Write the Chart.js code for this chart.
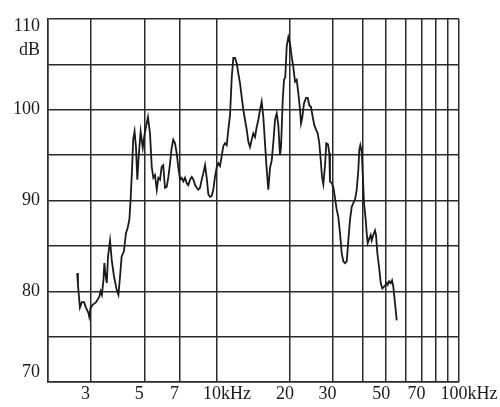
<!DOCTYPE html>
<html>
<head>
<meta charset="utf-8">
<script src="https://cdn.jsdelivr.net/npm/chart.js@4.4.1/dist/chart.umd.min.js"></script>
<style>
  html, body { margin: 0; padding: 0; background: #fff; }
</style>
</head>
<body>
<canvas id="chart" width="500" height="407"></canvas>
<script>
// trace: frequency in kHz, level in dB
const freqKHz = [
  2.64, 2.66, 2.71, 2.76, 2.82, 2.87, 2.94, 2.96, 3.00, 3.06,
  3.16, 3.26, 3.30, 3.34, 3.39, 3.42, 3.45, 3.50, 3.54, 3.61,
  3.67, 3.75, 3.85, 3.91, 3.97, 4.03, 4.12, 4.20, 4.27, 4.34,
  4.39, 4.45, 4.50, 4.56, 4.62, 4.68, 4.74, 4.83, 4.93, 5.02,
  5.08, 5.18, 5.28, 5.37, 5.45, 5.54, 5.63, 5.72, 5.81, 5.90,
  5.99, 6.09, 6.19, 6.29, 6.39, 6.49, 6.59, 6.70, 6.81, 6.91,
  7.03, 7.14, 7.25, 7.37, 7.49, 7.60, 7.73, 7.86, 7.98, 8.11,
  8.24, 8.36, 8.50, 8.64, 8.77, 8.92, 9.06, 9.20, 9.35, 9.50,
  9.65, 9.80, 9.97, 10.12, 10.28, 10.45, 10.61, 10.78, 10.96, 11.13,
  11.31, 11.50, 11.67, 11.86, 12.06, 12.24, 12.44, 12.64, 12.84, 13.04,
  13.26, 13.46, 13.68, 13.90, 14.12, 14.35, 14.58, 14.81, 15.05, 15.29,
  15.53, 15.78, 16.04, 16.28, 16.55, 16.82, 17.08, 17.36, 17.64, 17.91,
  18.20, 18.38, 18.68, 18.91, 19.14, 19.40, 19.70, 20.02, 20.35, 20.66,
  21.00, 21.34, 21.67, 22.02, 22.23, 22.51, 22.87, 23.31, 23.69, 24.05,
  24.45, 24.85, 25.23, 25.64, 26.06, 26.46, 26.81, 27.15, 27.49, 27.94,
  28.28, 28.74, 29.10, 29.29, 29.77, 30.23, 30.72, 31.22, 31.70, 32.22,
  32.75, 33.25, 33.80, 34.35, 34.88, 35.44, 36.02, 36.57, 37.17, 37.78,
  38.36, 38.72, 39.09, 39.62, 39.99, 40.49, 41.15, 41.54, 41.94, 42.58,
  43.16, 43.57, 44.24, 44.96, 45.39, 45.96, 46.71, 47.47, 48.20, 48.99,
  49.79, 50.26, 50.75, 51.37, 52.22, 52.86, 53.52, 54.39, 55.28
];
const levelDB = [
  82.0, 80.7, 78.2, 78.8, 78.8, 78.2, 77.6, 77.2, 78.2, 78.5,
  78.8, 79.4, 80.0, 79.6, 81.2, 83.1, 82.0, 80.9, 83.8, 85.6,
  83.4, 81.6, 80.1, 79.6, 81.6, 83.8, 84.4, 86.4, 87.0, 87.9,
  90.1, 93.4, 96.7, 97.6, 95.9, 92.3, 94.8, 97.6, 95.8, 97.4,
  98.1, 99.2, 97.4, 93.7, 92.5, 92.8, 91.2, 92.5, 92.3, 93.7,
  93.9, 91.4, 91.5, 92.6, 94.1, 95.8, 96.7, 96.3, 95.2, 93.7,
  92.3, 92.5, 92.1, 92.5, 91.9, 91.7, 92.3, 92.6, 92.3, 91.7,
  91.4, 91.2, 91.4, 92.3, 93.0, 93.9, 92.5, 90.7, 90.4, 90.5,
  91.2, 92.6, 93.7, 94.1, 93.8, 94.9, 96.0, 96.3, 96.1, 97.8,
  99.4, 103.6, 105.7, 105.7, 105.1, 104.0, 102.9, 101.4, 100.0, 98.9,
  97.8, 96.5, 95.9, 96.7, 97.4, 97.0, 98.1, 98.9, 100.0, 100.9,
  99.2, 96.3, 93.4, 91.2, 93.6, 94.4, 96.4, 98.9, 99.6, 98.3,
  95.0, 95.9, 101.1, 103.3, 103.6, 107.0, 108.0, 107.3, 105.8, 104.7,
  103.1, 103.3, 101.8, 100.0, 98.5, 99.2, 100.7, 101.3, 101.3, 100.5,
  100.3, 99.2, 98.3, 97.8, 97.4, 96.3, 94.5, 92.6, 91.8, 93.9,
  96.3, 96.2, 95.2, 92.1, 91.9, 91.5, 90.3, 89.0, 88.2, 86.4,
  84.2, 83.3, 83.1, 83.3, 85.6, 87.9, 89.3, 89.7, 90.1, 91.2,
  93.4, 95.6, 96.1, 95.4, 93.0, 89.7, 87.9, 86.4, 85.3, 85.8,
  86.2, 85.6, 86.2, 86.7, 86.2, 84.2, 82.7, 80.9, 80.3, 80.5,
  80.7, 80.9, 80.7, 81.1, 80.9, 81.2, 80.5, 78.7, 76.8
];

// vertical grid lines (kHz) and labelled ones
const gridFreqs = [2, 3, 5, 7, 10, 20, 30, 40, 50, 60, 70, 80, 90, 100];
const xLabelFreqs = [3, 5, 7, 10, 20, 30, 50, 70, 100];
const xLabelText = ['3', '5', '7', '10', '20', '30', '50', '70', '100'];
const xLabelUnit = ['', '', '', 'kHz', '', '', '', '', 'kHz'];
const yLabelValues = [70, 80, 90, 100, 110];
const yUnit = 'dB';

const ink = '#1a1a1a';
const font = '18px "Liberation Serif", "DejaVu Serif", serif';

// the scale labels sit a bit off the lines in the original, so draw them here
const axisText = {
    id: 'axisText',
    afterDraw(chart) {
        const { ctx, chartArea, scales } = chart;
        const x = scales.x, y = scales.y;
        ctx.save();
        ctx.fillStyle = ink;
        ctx.font = font;
        ctx.textBaseline = 'middle';

        ctx.textAlign = 'right';
        yLabelValues.forEach(v => {
            let py = y.getPixelForValue(v);
            if (v === y.max) py += 7;
            if (v === y.min) py -= 10;
            ctx.fillText(String(v), chartArea.left - 8, py);
        });
        ctx.fillText(yUnit, chartArea.left - 8, y.getPixelForValue(y.max) + 31);

        ctx.textAlign = 'left';
        xLabelFreqs.forEach((f, i) => {
            const num = xLabelText[i];
            const w = ctx.measureText(num).width;
            const px = x.getPixelForValue(f) - 5;
            ctx.fillText(num + xLabelUnit[i], px - w / 2, chartArea.bottom + 12);
        });
        ctx.restore();
    }
};

const gridStyle = { color: '#2a2a2a', lineWidth: 1.5, drawTicks: false };
const borderStyle = { display: true, color: '#2a2a2a', width: 1.5 };

new Chart(document.getElementById('chart'), {
    type: 'line',
    data: {
        datasets: [{
            data: freqKHz.map((f, i) => ({ x: f, y: levelDB[i] })),
            borderColor: ink,
            borderWidth: 1.8,
            pointRadius: 0,
            tension: 0,
            fill: false
        }]
    },
    options: {
        responsive: false,
        animation: false,
        devicePixelRatio: 1,
        layout: { padding: { left: 48, right: 41, top: 19, bottom: 25 } },
        plugins: { legend: { display: false }, tooltip: { enabled: false } },
        scales: {
            x: {
                type: 'logarithmic',
                min: 2,
                max: 100,
                afterBuildTicks: s => { s.ticks = gridFreqs.map(v => ({ value: v })); },
                ticks: { display: false },
                grid: gridStyle,
                border: borderStyle
            },
            y: {
                type: 'linear',
                min: 70,
                max: 110,
                ticks: { display: false, stepSize: 5 },
                grid: gridStyle,
                border: borderStyle
            }
        }
    },
    plugins: [axisText]
});
</script>
</body>
</html>
